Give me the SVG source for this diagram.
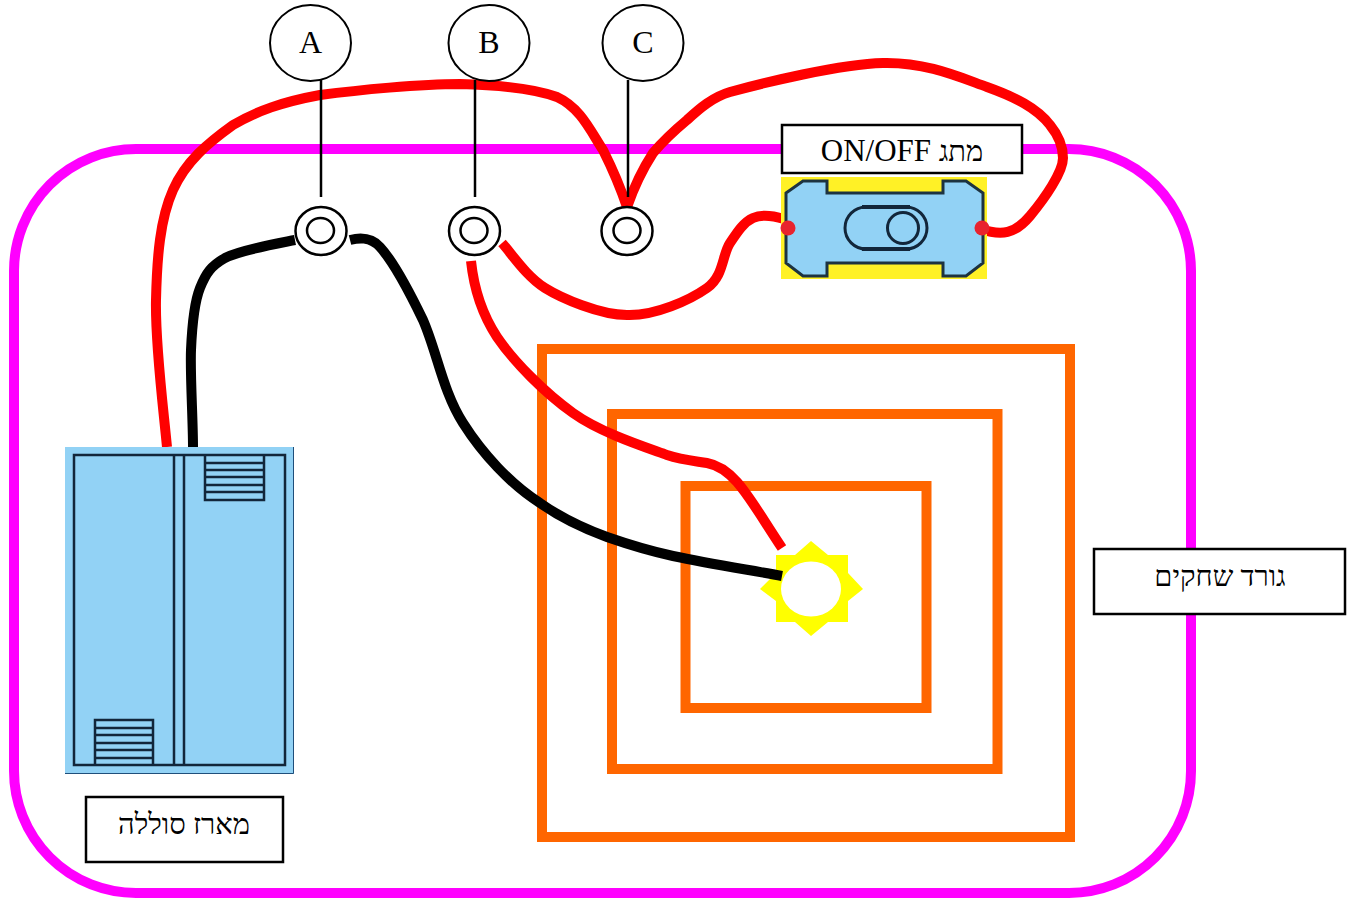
<svg xmlns="http://www.w3.org/2000/svg" width="1352" height="899" viewBox="0 0 1352 899">
<style>
text{font-family:"Liberation Serif","Noto Sans CJK SC",serif;fill:#000;text-anchor:middle}
.w{fill:none;stroke-width:10;stroke-linejoin:round}
.red{stroke:#f00}
.blk{stroke:#000}
.sq{fill:none;stroke:#f60;stroke-width:10}
.lbl{fill:#fff;stroke:#000;stroke-width:2.5}
.ln{stroke:#000;stroke-width:2.5;fill:none}
.circ{fill:#fff;stroke:#000;stroke-width:2}
.term{fill:#fff;stroke:#000;stroke-width:2.5}
.dk{stroke:#12263a;stroke-width:2.5;fill:none}
</style>
<rect id="board" x="14" y="149" width="1177" height="744" rx="122" ry="122" fill="none" stroke="#f0f" stroke-width="10"/>
<g id="coil">
<rect class="sq" x="542" y="349" width="528" height="488"/>
<rect class="sq" x="612" y="414" width="385.500" height="355"/>
<rect class="sq" x="685.500" y="486" width="241" height="222"/>
</g>
<g id="led">
<polygon points="776,555 795,555 811,541 828,555 848,555 848,573 863,589 848,601 848,622 828,622 811,636 795,622 776,622 776,601 760,589 776,573" fill="#ff0"/>
<ellipse cx="811" cy="589" rx="30" ry="27.500" fill="#fff"/>
</g>
<g id="connectors">
<path class="w red" d="M167 447C163 405 155 343 156 300C157 257 160 219 173 190C186 161 208 143 233 125C257 111 282 102 320 95C358 90 420 84 460 84C499 85 533 88 557 97C581 108 591 132 603 150C613 170 622 192 627 207"/>
<path class="w blk" d="M193 447C193 420 190 373 191 350C192 327 194 303 200 288C206 273 211 266 225 258C241 250 275 244 295 240"/>
<path class="w blk" d="M350 240C358 238 370 236 380 247C392 260 409 291 423 320C437 352 443 392 463 423C482 453 510 484 540 503C560 517 585 529 607 537C630 545 650 551 673 556C710 564 750 570 782 576"/>
<path class="w red" d="M471 261C473 280 478 308 497 337C514 362 545 393 573 413C601 433 645 447 667 455C682 460 695 461 707 463C735 468 750 500 782 548"/>
<path class="w red" d="M502 243C512 254 526 276 545 288C561 298 600 315 627 315C655 316 690 300 707 288C724 276 722 255 730 243C738 231 744 222 753 218C762 214 774 216 784 219"/>
<path class="w red" d="M627 207C634 187 642 170 653 153C664 140 675 130 687 120C700 108 713 97 730 92C763 83 840 64 883 63C926 62 959 77 987 87C1015 97 1037 108 1050 125C1059 136 1063 148 1063 158C1063 172 1045 198 1030 216C1015 234 1002 236 980 229"/>
</g>
<g id="probe-lines">
<line class="ln" x1="321" y1="80" x2="321" y2="197"/>
<line class="ln" x1="475" y1="80" x2="475" y2="197"/>
<line class="ln" x1="628" y1="80" x2="628" y2="197"/>
</g>
<g id="node-a"><ellipse class="circ" cx="310.500" cy="43" rx="40.500" ry="38"/><text x="310.500" y="53" font-size="32">A</text></g>
<g id="node-b"><ellipse class="circ" cx="489" cy="43" rx="40.500" ry="38"/><text x="489" y="53" font-size="32">B</text></g>
<g id="node-c"><ellipse class="circ" cx="643" cy="43" rx="40.500" ry="38"/><text x="643" y="53" font-size="32">C</text></g>
<g id="terminal-a"><ellipse class="term" cx="321" cy="231" rx="25.500" ry="24"/><ellipse class="term" cx="320.500" cy="230.500" rx="13.500" ry="12.500"/></g>
<g id="terminal-b"><ellipse class="term" cx="474.500" cy="231" rx="25.500" ry="24"/><ellipse class="term" cx="474" cy="230.500" rx="13.500" ry="12.500"/></g>
<g id="terminal-c"><ellipse class="term" cx="627" cy="231" rx="25.500" ry="24"/><ellipse class="term" cx="627" cy="230.500" rx="13.500" ry="12.500"/></g>
<g id="switch">
<rect x="781" y="177" width="206" height="102" fill="#fff126"/>
<polygon points="786,193 803,181 827,181 827,193 943,193 943,181 966,181 983,193 983,263 966,276 943,276 943,263 827,263 827,276 803,276 786,263" fill="#92d2f5" stroke="#1d3340" stroke-width="3"/>
<rect x="845" y="207" width="82" height="42" rx="21" ry="21" fill="none" stroke="#12263a" stroke-width="3"/>
<path d="M862 207H910M862 249H910" stroke="#12263a" stroke-width="4" fill="none"/>
<circle cx="903" cy="228" r="15.500" fill="none" stroke="#12263a" stroke-width="3"/>
<circle cx="788" cy="228" r="7.500" fill="#e8232e"/>
<circle cx="982" cy="228" r="7.500" fill="#e8232e"/>
</g>
<g id="switch-label"><rect class="lbl" x="782" y="125" width="240" height="48"/><text x="902" y="161" font-size="31">ON/OFF <tspan font-size="29">מתג</tspan></text></g>
<g id="battery">
<rect x="65" y="447" width="229" height="327" fill="#92d2f5"/>
<path d="M293.500 447V773.500H65" fill="none" stroke="#1f4f7a" stroke-width="1"/>
<rect class="dk" x="74" y="455" width="211" height="310"/>
<line class="dk" x1="174" y1="455" x2="174" y2="765"/>
<line class="dk" x1="184" y1="455" x2="184" y2="765"/>
<path class="dk" d="M205 455V500H264V455M205 463H264M205 470H264M205 477H264M205 485H264M205 492H264"/>
<path class="dk" d="M95 765V720H153V765M95 720H153M95 728H153M95 735H153M95 743H153M95 750H153M95 758H153"/>
</g>
<g id="battery-label"><rect class="lbl" x="86" y="797" width="197" height="65"/><text x="184" y="834" font-size="29">מארז סוללה</text></g>
<g id="board-label"><rect class="lbl" x="1094" y="549" width="251" height="65"/><text x="1220" y="586" font-size="29">גורד שחקים</text></g>
</svg>
